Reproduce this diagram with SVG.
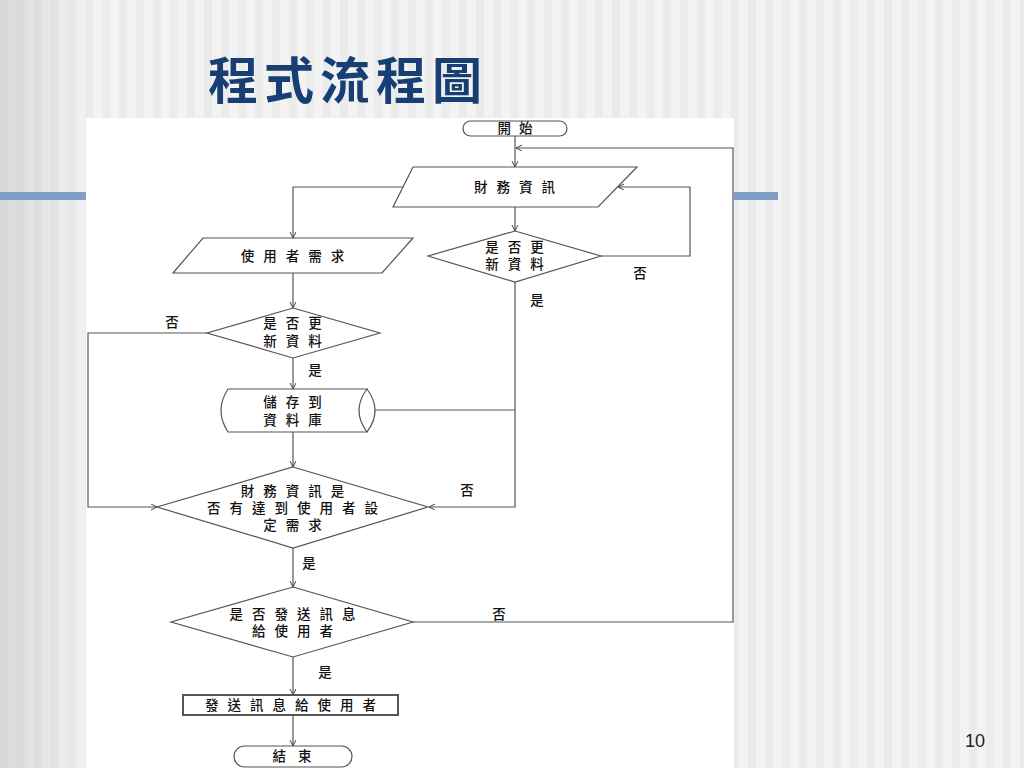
<svg xmlns="http://www.w3.org/2000/svg" width="1024" height="768" viewBox="0 0 1024 768">
<defs>
<pattern id="stripes" x="0" y="0" width="17" height="768" patternUnits="userSpaceOnUse">
<rect x="0" y="0" width="17" height="768" fill="#f3f3f3"/>
<rect x="0" y="0" width="8" height="768" fill="#ebebeb"/>
</pattern>
<linearGradient id="leftShade" x1="0" y1="0" x2="1" y2="0">
<stop offset="0" stop-color="#c8c8c8" stop-opacity="0.6"/>
<stop offset="1" stop-color="#c8c8c8" stop-opacity="0"/>
</linearGradient>
<marker id="arr" markerWidth="8" markerHeight="8" refX="6" refY="3" orient="auto" markerUnits="userSpaceOnUse">
<path d="M0,0 L6,3 L0,6" fill="none" stroke="#444" stroke-width="1"/>
</marker>
<style>
.shape{fill:#fff;stroke:#555;stroke-width:1.2}
.t{font-family:"Noto Sans CJK TC","Noto Sans CJK SC",sans-serif;font-size:13.5px;font-weight:500;fill:#111;text-anchor:middle;letter-spacing:9px}
.lbl{font-family:"Noto Sans CJK TC","Noto Sans CJK SC",sans-serif;font-size:13.5px;font-weight:500;fill:#111;text-anchor:middle}
.edge{fill:none;stroke:#555;stroke-width:1.2}
</style>
</defs>
<rect width="1024" height="768" fill="url(#stripes)"/>
<rect x="0" y="0" width="90" height="768" fill="url(#leftShade)"/>
<rect x="0" y="192" width="86" height="8" fill="#7e9fc6"/>
<rect x="734" y="192" width="44" height="8" fill="#7e9fc6"/>
<text x="208" y="99" font-family="'Noto Sans CJK TC','Noto Sans CJK SC',sans-serif" font-size="50" font-weight="bold" fill="#173f74" letter-spacing="6">程式流程圖</text>
<text x="975" y="747" font-family="'Liberation Sans',sans-serif" font-size="18" fill="#222" text-anchor="middle">10</text>
<rect x="86" y="118" width="648" height="650" fill="#fff"/>

<g id="connectors">
<path class="edge" d="M515,136 V167" marker-end="url(#arr)"/>
<path class="edge" d="M413,622 H733 V148 H516" marker-end="url(#arr)"/>
<path class="edge" d="M515,207 V231" marker-end="url(#arr)"/>
<path class="edge" d="M601,256 H690 V187 H618" marker-end="url(#arr)"/>
<path class="edge" d="M515,282 V507 H429" marker-end="url(#arr)"/>
<path class="edge" d="M515,410 H368" marker-end="url(#arr)"/>
<path class="edge" d="M403,187 H293 V238" marker-end="url(#arr)"/>
<path class="edge" d="M293,273 V308" marker-end="url(#arr)"/>
<path class="edge" d="M207,333 H88 V507 H157" marker-end="url(#arr)"/>
<path class="edge" d="M293,358 V389" marker-end="url(#arr)"/>
<path class="edge" d="M293,432 V467" marker-end="url(#arr)"/>
<path class="edge" d="M293,548 V587" marker-end="url(#arr)"/>
<path class="edge" d="M293,657 V695" marker-end="url(#arr)"/>
<path class="edge" d="M293,715 V746" marker-end="url(#arr)"/>
<text class="lbl" x="640" y="278">否</text>
<text class="lbl" x="537" y="305">是</text>
<text class="lbl" x="172" y="327">否</text>
<text class="lbl" x="315" y="375">是</text>
<text class="lbl" x="467" y="495">否</text>
<text class="lbl" x="309" y="568">是</text>
<text class="lbl" x="499" y="619">否</text>
<text class="lbl" x="325" y="677">是</text>
</g>

<g id="start">
<rect class="shape" x="463" y="121" width="104" height="15" rx="7.5"/>
<text class="t" x="519" y="133" style="letter-spacing:8px">開始</text>
</g>
<g id="finance-input">
<polygon class="shape" points="413,167 637,167 598,207 393,207"/>
<text class="t" x="519" y="192">財務資訊</text>
</g>
<g id="decision-update-right">
<polygon class="shape" points="515,231 601,256 515,282 428,256"/>
<text class="t" x="519" y="252">是否更<tspan x="519" dy="17">新資料</tspan></text>
</g>
<g id="user-need">
<polygon class="shape" points="203,238 413,238 382,273 173,273"/>
<text class="t" x="297" y="261">使用者需求</text>
</g>
<g id="decision-update-left">
<polygon class="shape" points="293,308 380,333 293,358 207,333"/>
<text class="t" x="297" y="328">是否更<tspan x="297" dy="18">新資料</tspan></text>
</g>
<g id="database">
<path class="shape" d="M228,389 H367 Q351,410.5 367,432 H228 Q214,410.5 228,389 Z"/>
<path class="shape" d="M367,389 Q383,410.5 367,432" fill="none"/>
<text class="t" x="297" y="407">儲存到<tspan x="297" dy="18">資料庫</tspan></text>
</g>
<g id="decision-meet">
<polygon class="shape" points="293,467 428,507 293,548 157,507"/>
<text class="t" x="297" y="496">財務資訊是<tspan x="297" dy="17">否有達到使用者設</tspan><tspan x="297" dy="17">定需求</tspan></text>
</g>
<g id="decision-send">
<polygon class="shape" points="293,587 413,622 293,657 171,622"/>
<text class="t" x="297" y="619">是否發送訊息<tspan x="297" dy="17">給使用者</tspan></text>
</g>
<g id="send-message">
<rect class="shape" x="183" y="695" width="215" height="20" style="stroke-width:2"/>
<text class="t" x="295" y="710">發送訊息給使用者</text>
</g>
<g id="end">
<rect class="shape" x="234" y="746" width="118" height="21" rx="10.5"/>
<text class="t" x="298" y="761" style="letter-spacing:12px">結束</text>
</g>
</svg>
